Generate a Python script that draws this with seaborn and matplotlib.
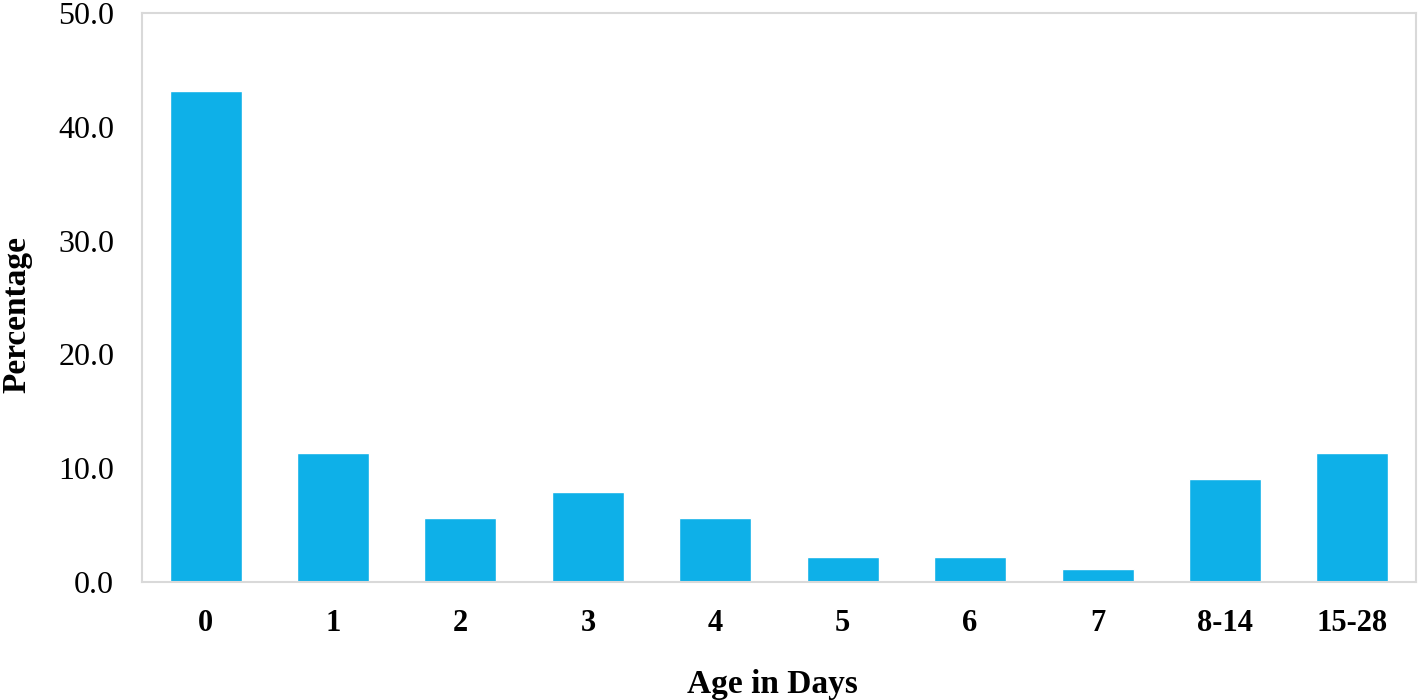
import pandas as pd
import seaborn as sns
import matplotlib.pyplot as plt
import matplotlib.ticker as ticker

# data
age_groups = ["0", "1", "2", "3", "4", "5", "6", "7", "8-14", "15-28"]
percentages = [43.2, 11.3, 5.6, 7.9, 5.6, 2.2, 2.2, 1.1, 9.0, 11.3]
y_ticks = [0, 10, 20, 30, 40, 50]

df = pd.DataFrame({"Age in Days": age_groups, "Percentage": percentages})

sns.set_theme(style="white")
plt.rcParams["font.family"] = ["Liberation Serif", "DejaVu Serif"]

fig = plt.figure(figsize=(14.24, 7), dpi=100)
ax = fig.add_axes([0.0997, 0.169, 0.8947, 0.812])

sns.barplot(
    data=df,
    x="Age in Days",
    y="Percentage",
    color="#0EB0E8",
    saturation=1,
    width=0.565,
    ax=ax,
)

ax.set_ylim(0, 50)
ax.set_xlim(-0.5, len(age_groups) - 0.5)
ax.set_yticks(y_ticks)
ax.yaxis.set_major_formatter(ticker.FormatStrFormatter("%.1f"))

for spine in ax.spines.values():
    spine.set_visible(True)
    spine.set_color("#D9D9D9")
    spine.set_linewidth(1.5)

ax.tick_params(axis="both", length=0, colors="black")
ax.tick_params(axis="y", pad=20, labelsize=23)
ax.tick_params(axis="x", pad=20, labelsize=22)
for lbl in ax.get_xticklabels():
    lbl.set_fontweight("bold")

ax.set_xlabel("Age in Days", fontsize=24, fontweight="bold", color="black")
ax.set_ylabel("Percentage", fontsize=24, fontweight="bold", color="black")
ax.xaxis.label.set_va("center")
ax.yaxis.label.set_va("center")
ax.xaxis.set_label_coords(0.495, -0.181)
ax.yaxis.set_label_coords(-0.0985, 0.47)
ax.grid(False)

fig.savefig("out.png", dpi=100)
